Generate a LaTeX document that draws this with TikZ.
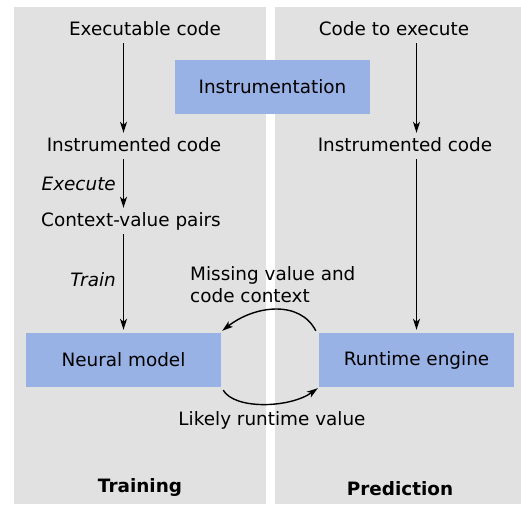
\documentclass[tikz,border=0pt]{standalone}
\usepackage{fontspec}
\setmainfont{DejaVu Sans}
\usetikzlibrary{arrows.meta}

\definecolor{panelgray}{RGB}{225,225,225}
\definecolor{boxblue}{RGB}{153,178,229}

\begin{document}
\fontsize{18.4}{21.6}\selectfont
\begin{tikzpicture}[x=1pt, y=-1pt,
    txt/.style={anchor=base, inner sep=4pt, text height=14pt, text depth=4pt},
    stage/.style={fill=boxblue, minimum width=195pt, minimum height=54pt, inner sep=0pt},
    arr/.style={-{Stealth[length=11pt, width=7pt, inset=3pt]}, line width=1.4pt}]
    \useasboundingbox (0, 0) rectangle (521, 504);
    \fill[panelgray] (14, 7) rectangle (266, 504);
    \fill[panelgray] (275, 7) rectangle (521, 504);

    \node[stage] (instr) at (272.5, 86.5) {Instrumentation};
    \node[stage] (nm) at (123.5, 360) {Neural model};
    \node[stage] (re) at (416.5, 360) {Runtime engine};

    \node[txt] (exec) at (145, 35) {Executable code};
    \node[txt] (instrL) at (134, 151) {Instrumented code};
    \node[txt] (pairs) at (131, 226) {Context-value pairs};
    \node[txt] (todo) at (394, 35) {Code to execute};
    \node[txt] (instrR) at (405, 151) {Instrumented code};

    \node[align=left, anchor=north west, inner sep=0pt] (miss) at (190, 266.5) {Missing value and\\code context};
    \node[anchor=base] (likely) at (272, 425) {Likely runtime value};
    \node[anchor=base, font=\bfseries] (train) at (140, 492.5) {Training};
    \node[anchor=base, font=\bfseries] (pred) at (400, 495) {Prediction};

    \draw (exec.south -| nm) edge[arr] (instrL.north -| nm)
          (instrL.south -| nm) edge[arr] node[left, font=\itshape, inner sep=7pt]{Execute} (pairs.north -| nm)
          (pairs.south -| nm) edge[arr, shorten >=3pt] node[left, pos=0.46, font=\itshape, inner sep=7pt]{Train} (nm.north)
          (todo.south -| re) edge[arr] (instrR.north -| re)
          (instrR.south -| re) edge[arr, shorten >=3pt] (re.north)
          ;
    \draw[arr] ([shift={(-3, -2)}]re.north west) .. controls (300, 300) and (255, 305) .. ([shift={(1, -2)}]nm.north east);
    \draw[arr] ([shift={(2, 3)}]nm.south east) .. controls (235, 410) and (290, 408) .. ([shift={(-1, 1)}]re.south west);
\end{tikzpicture}
\end{document}
